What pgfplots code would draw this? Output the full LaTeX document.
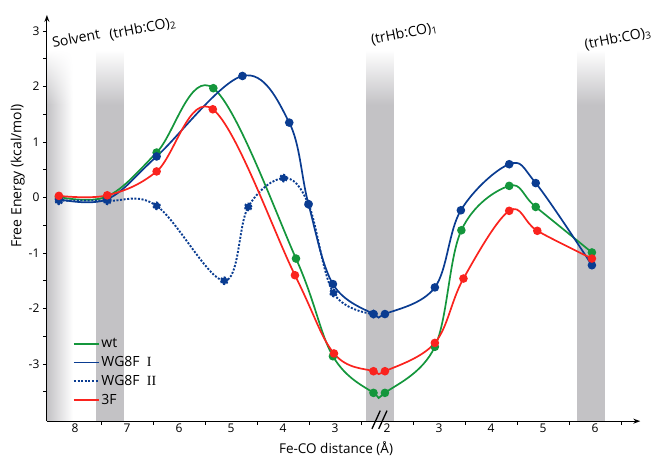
\documentclass[border=0pt]{standalone}
\usepackage{pgfplots}
\pgfplotsset{compat=1.18}
\usepackage{fontspec}
\setmainfont{Open Sans}
\newfontfamily\romnum{Liberation Serif}
\usetikzlibrary{arrows.meta,fadings}

\definecolor{cwt}{RGB}{20,150,60}
\definecolor{cblue}{RGB}{10,60,145}
\definecolor{cred}{RGB}{250,35,30}
\definecolor{bandgray}{RGB}{195,194,197}

% x is a folded distance axis: left part 8 -> 2 A, right part 2 -> 6 A
% u = 8 - d (left), u = d + 4 (right)
\pgfplotstableread{
u      y
-0.31  0.01
0.62   0.02
1.57   0.81
2.66   1.97
4.25  -1.10
4.96  -2.86
5.74  -3.52
5.96  -3.52
6.92  -2.69
7.43  -0.59
8.35   0.21
8.86  -0.17
9.94  -0.99
}\wt
\pgfplotstableread{
u      y
-0.31 -0.03
0.62  -0.03
1.57   0.74
3.22   2.19
4.12   1.35
4.49  -0.12
4.96  -1.56
5.74  -2.10
5.96  -2.10
6.92  -1.62
7.42  -0.23
8.35   0.60
8.86   0.26
9.94  -1.22
}\wgone
\pgfplotstableread{
u      y
-0.31 -0.06
0.62  -0.06
1.57  -0.15
2.87  -1.50
3.33  -0.17
4.01   0.35
4.49  -0.12
4.97  -1.72
5.74  -2.10
}\wgtwo
\pgfplotstableread{
u      y
-0.31  0.03
0.62   0.04
1.57   0.47
2.65   1.59
4.23  -1.40
4.98  -2.81
5.74  -3.13
5.96  -3.13
6.92  -2.62
7.47  -1.46
8.35  -0.24
8.89  -0.60
9.94  -1.10
}\thf

\begin{document}
\begin{tikzpicture}
\begin{axis}[
    scale only axis,
    width=593pt, height=406pt,
    xmin=-0.54, xmax=10.87,
    ymin=-4.03, ymax=3.29,
    axis lines=left,
    axis line style={line width=1.1pt, -{Stealth[length=7pt,width=5pt]}},
    axis on top, clip=false,
    xtick={0,...,10},
    xticklabels={8,7,6,5,4,3,2,3,4,5,6},
    minor xtick={0.5,1.5,...,10.5},
    ytick={-3,...,3},
    minor ytick={-3.5,-2.5,...,2.5},
    major x tick style={draw=none},
    tick align=outside,
    major tick length=4pt, minor tick length=3.5pt,
    tick style={black, line width=0.9pt},
    /pgf/number format/assume math mode=true,
    tick label style={font=\fontsize{12}{14}\selectfont},
    xticklabel style={yshift=5pt},
    xlabel={Fe-CO distance (Å)},
    ylabel={Free Energy (kcal/mol)},
    every axis x label/.style={at={(axis cs:5.02,-4.53)}, anchor=center, font=\fontsize{13.5}{16}\selectfont},
    every axis y label/.style={at={(axis cs:-1.10,0.39)}, anchor=center, rotate=90, font=\fontsize{14}{16}\selectfont},
    legend style={at={(axis cs:-0.10,-3.15)}, anchor=west, draw=none, fill=none,
        font=\fontsize{14}{16}\selectfont, row sep=4.3pt, nodes={inner sep=1.5pt}},
    legend cell align=left,
    legend image code/.code={\draw[#1,mark=none,line width=1.8pt] (0pt,0pt) -- (13pt,0pt); \path (0pt,0pt) -- (25pt,0pt);},
    every axis plot/.append style={mark=*, mark size=3.4pt},
]
% shaded bands
\shade[left color=bandgray, right color=white] (axis cs:-0.54,-4.03) rectangle (axis cs:-0.04,1.67);
\shade[left color=bandgray, right color=white, path fading=north] (axis cs:-0.54,1.67) rectangle (axis cs:-0.04,2.66);
\fill[bandgray] (axis cs:0.40,-4.03) rectangle (axis cs:0.94,1.67);
\fill[bandgray, path fading=north] (axis cs:0.40,1.67) rectangle (axis cs:0.94,2.66);
\fill[bandgray] (axis cs:5.60,-4.03) rectangle (axis cs:6.13,1.67);
\fill[bandgray, path fading=north] (axis cs:5.60,1.67) rectangle (axis cs:6.13,2.66);
\fill[bandgray] (axis cs:9.65,-4.03) rectangle (axis cs:10.19,1.67);
\fill[bandgray, path fading=north] (axis cs:9.65,1.67) rectangle (axis cs:10.19,2.66);
\node[rotate=11, font=\fontsize{14}{16}\selectfont] at (axis cs:0.02,2.87) {Solvent};
\node[rotate=11, font=\fontsize{14}{16}\selectfont] at (axis cs:1.30,3.04) {(trHb:CO)\textsubscript{2}};
\node[rotate=11, font=\fontsize{14}{16}\selectfont] at (axis cs:6.33,2.95) {(trHb:CO)\textsubscript{1}};
\node[rotate=11, font=\fontsize{14}{16}\selectfont] at (axis cs:10.44,2.86) {(trHb:CO)\textsubscript{3}};

\addplot[cwt, line width=1.7pt, smooth, tension=0.6] table[x=u,y=y] {\wt};
\addplot[cblue, line width=1.7pt, smooth, tension=0.6] table[x=u,y=y] {\wgone};
\addplot[cblue, line width=1.9pt, smooth, tension=0.6, dash pattern=on 2pt off 1.6pt] table[x=u,y=y] {\wgtwo};
\addplot[cred, line width=1.7pt, smooth, tension=0.6] table[x=u,y=y] {\thf};
\legend{wt, WG8F\ \ {\romnum I}, WG8F\ \ {\romnum II}, 3F}

% axis break mark
\draw[line width=1.3pt] (axis cs:5.71,-4.17) -- (axis cs:5.87,-3.84);
\draw[line width=1.3pt] (axis cs:5.84,-4.17) -- (axis cs:6.00,-3.84);

\coordinate (bl) at (axis cs:-1.442,-4.712);
\coordinate (tr) at (axis cs:11.115,3.559);
\end{axis}
\pgfresetboundingbox
\path[use as bounding box] (bl) rectangle (tr);
\end{tikzpicture}
\end{document}
